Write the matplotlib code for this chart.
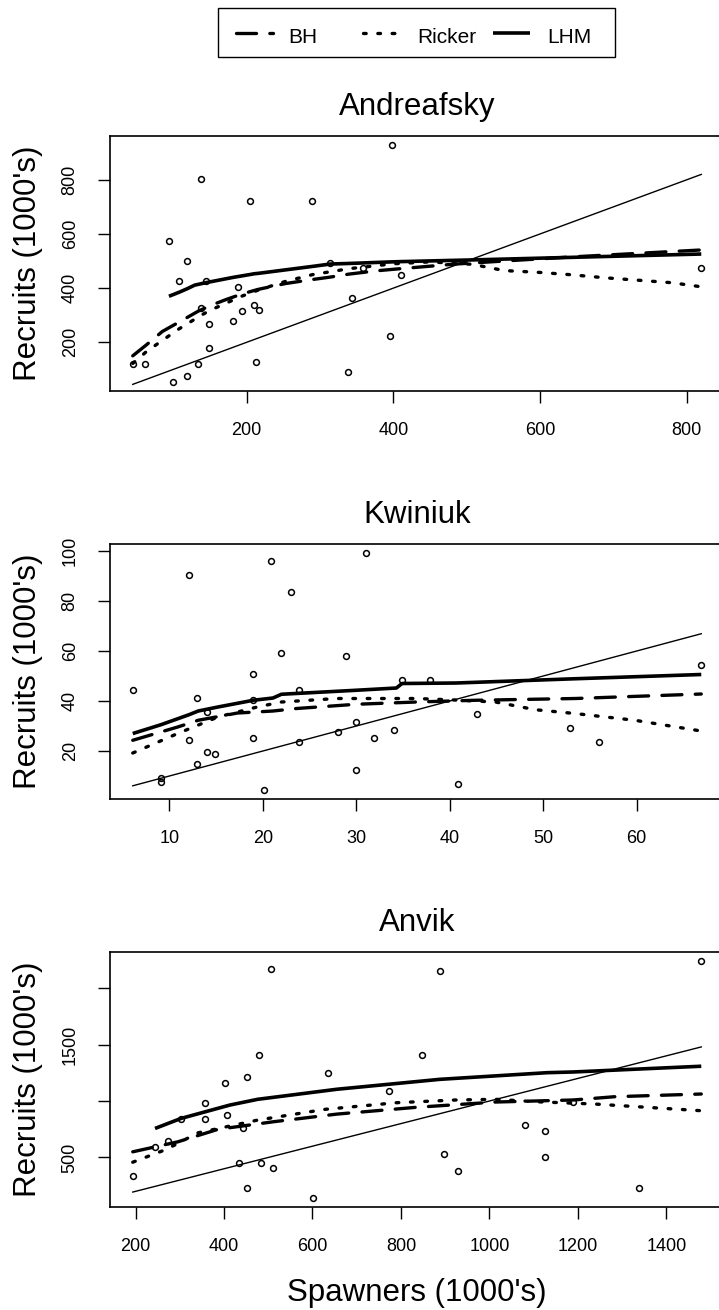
import numpy as np
import matplotlib
matplotlib.use("Agg")
import matplotlib.pyplot as plt
from matplotlib.lines import Line2D
from matplotlib.patches import Rectangle

plt.rcParams['font.family'] = ['Liberation Sans', 'DejaVu Sans']

W, H = 719, 1310

# ---- Andreafsky ----
and_S = [398, 138, 204, 289, 94, 118.5, 108, 144, 314, 358, 410, 820, 188, 344, 138,
         210, 217, 193, 149, 182, 395, 149, 44.6, 61, 133, 212.5, 338.5, 119, 99]
and_R = [927, 803, 721, 721, 573, 499, 425, 425, 491, 475, 447, 475, 403, 364, 327,
         337, 321, 314, 269, 277, 225, 180, 121, 121, 121, 128, 90, 75, 55]
and_bh_x = [44.6, 63, 85, 108, 134, 150, 172, 193, 215, 253, 290, 312, 340, 377, 410, 485, 550, 648, 820]
and_bh_y = [150, 190, 240, 275, 315, 335, 358, 378, 395, 417, 432, 440, 452, 464, 472, 489, 500, 516, 541]
and_rk_x = [44.6, 63, 85, 108, 138, 150, 193, 215, 253, 290, 340, 400, 450, 508, 551, 600, 640, 690, 780, 820]
and_rk_y = [122, 165, 207, 250, 300, 318, 370, 392, 425, 450, 472, 490, 497, 488, 465, 458, 450, 438, 420, 405]
and_lhm_x = [94, 108, 119, 129, 144, 182, 204, 210, 217, 289, 314, 338, 398, 410, 504, 820]
and_lhm_y = [370, 385, 398, 411, 420, 440, 450, 453, 455, 480, 489, 491, 497, 498, 504, 526]

# ---- Kwiniuk ----
kwi_S = [6.1, 12.1, 20.9, 23.0, 31.0, 22.0, 28.9, 19.0, 66.9, 34.9, 37.9, 13.0, 23.9, 19.0, 14.0,
         42.9, 12.1, 19.0, 30.0, 28.0, 23.9, 31.9, 34.0, 52.9, 56.0, 14.0, 14.9, 13.0, 30.0,
         9.1, 9.1, 20.1, 40.9]
kwi_R = [44.6, 90.2, 95.8, 83.6, 99.0, 59.0, 58.1, 51.0, 54.2, 48.6, 48.6, 41.4, 44.6, 40.3, 35.6,
         35.0, 24.6, 25.4, 31.8, 27.6, 23.8, 25.4, 28.6, 29.4, 23.8, 19.8, 19.0, 14.8, 12.6,
         9.4, 7.6, 4.6, 7.0]
kwi_bh_x = [6.1, 10.9, 13.1, 17.3, 21.1, 23.6, 30, 36.4, 42.8, 53.4, 66.9]
kwi_bh_y = [24.3, 29.6, 32.3, 35.2, 36.0, 37.0, 38.7, 39.6, 40.3, 41.0, 42.8]
kwi_rk_x = [6.1, 10.9, 15.2, 19.4, 22, 27.9, 36.4, 40, 44.9, 49.2, 53.4, 59.8, 66.9]
kwi_rk_y = [19.2, 27.0, 33.6, 37.6, 39.6, 41.0, 41.0, 40.5, 39.6, 36.5, 35.0, 32.3, 28.0]
kwi_lhm_x = [6.1, 9.1, 12.1, 13.1, 15.2, 19.0, 21.1, 22.0, 30.0, 34.3, 34.9, 40.7, 53.4, 66.9]
kwi_lhm_y = [27.0, 30.5, 34.5, 36.0, 37.6, 40.3, 41.2, 42.7, 44.3, 45.2, 47.0, 47.2, 48.9, 50.6]

# ---- Anvik ----
anv_S = [1479, 507, 888.5, 479, 848, 634.5, 452, 402, 774, 357, 1189, 303, 357, 406, 443,
         273, 244, 1080, 1125.5, 898, 1125.5, 434, 483.5, 511.5, 193.6, 929.6, 452, 1339, 602]
anv_R = [2236, 2169, 2147, 1405, 1405, 1245, 1210, 1157, 1086, 979, 994, 837, 837, 873, 763,
         642, 589, 784, 731, 535, 500, 447, 447, 411, 340, 376, 234, 234, 145]
anv_bh_x = [193.6, 296, 386, 511, 655, 834, 1014, 1189, 1283, 1479]
anv_bh_y = [550, 639, 749, 816, 884, 944, 991, 1009, 1038, 1062]
anv_rk_x = [193.6, 269, 341, 476, 628, 790, 924, 1014, 1104, 1239, 1479]
anv_rk_y = [458, 571, 718, 831, 926, 985, 1009, 1015, 994, 973, 914]
anv_lhm_x = [244, 303, 413, 476, 655, 888, 1131, 1189, 1479]
anv_lhm_y = [757, 846, 964, 1015, 1104, 1192, 1251, 1257, 1308]

titles = ["Andreafsky", "Kwiniuk", "Anvik"]
xticks = [[200, 400, 600, 800], [10, 20, 30, 40, 50, 60],
          [200, 400, 600, 800, 1000, 1200, 1400]]
yticks = [[200, 400, 600, 800], [20, 40, 60, 80, 100], [500, 1000, 1500, 2000]]
ytick_labels = [None, None, ["500", "", "1500", ""]]

panels = [
    (and_S, and_R, and_bh_x, and_bh_y, and_rk_x, and_rk_y, and_lhm_x, and_lhm_y),
    (kwi_S, kwi_R, kwi_bh_x, kwi_bh_y, kwi_rk_x, kwi_rk_y, kwi_lhm_x, kwi_lhm_y),
    (anv_S, anv_R, anv_bh_x, anv_bh_y, anv_rk_x, anv_rk_y, anv_lhm_x, anv_lhm_y),
]

BH_STYLE = dict(color="black", lw=2.4, ls=(0, (6, 4)), dash_capstyle="round")
RK_STYLE = dict(color="black", lw=2.4, ls=(0, (0.8, 3.5)), dash_capstyle="round")
LHM_STYLE = dict(color="black", lw=2.6, solid_capstyle="butt")


def rlim(v):
    # R style axis range: data range plus 4% each side
    lo, hi = min(v), max(v)
    d = 0.04 * (hi - lo)
    return lo - d, hi + d


def fx(x):
    return x / W


def fy(y):
    return 1 - y / H


fig = plt.figure(figsize=(W / 100, H / 100), dpi=100)

tops = [136, 544, 952]
box_h = 255
left, right = 110, 724

for i, (S, R, bx, by, rx, ry, lx, ly) in enumerate(panels):
    top = tops[i]
    ax = fig.add_axes([fx(left), fy(top + box_h), (right - left) / W, box_h / H])
    ax.plot(S, R, "o", mfc="none", mec="black", ms=4.2, mew=1.1, zorder=3)
    ss = sorted(S)
    ax.plot(ss, ss, color="black", lw=1.0)
    ax.plot(bx, by, **BH_STYLE)
    ax.plot(rx, ry, **RK_STYLE)
    ax.plot(lx, ly, **LHM_STYLE)
    ax.set_xlim(rlim(S))
    ax.set_ylim(rlim(R))
    ax.set_xticks(xticks[i])
    ax.set_yticks(yticks[i])
    if ytick_labels[i] is not None:
        ax.set_yticklabels(ytick_labels[i])
    ax.tick_params(direction="out", length=8.5, width=1.0, pad=14, labelsize=13)
    ax.tick_params(axis="y", labelrotation=90)
    for lab in ax.get_yticklabels():
        lab.set_verticalalignment("center")
    for sp in ax.spines.values():
        sp.set_linewidth(1.2)

    cx = (left + right) / 2
    fig.text(fx(cx), fy(top - 21), titles[i], ha="center", va="baseline", fontsize=22.5)
    fig.text(fx(28), fy(top + box_h / 2), "Recruits (1000's)", rotation=90,
             ha="center", va="center", fontsize=22.5)

fig.text(fx((left + right) / 2), fy(1301), "Spawners (1000's)", ha="center",
         va="baseline", fontsize=22.5)

# legend drawn at top of the page
fig.add_artist(Rectangle((fx(218), fy(57)), (615 - 218) / W, (57 - 8) / H,
                         transform=fig.transFigure, fill=False, lw=1.0, ec="black"))
leg_y = fy(33)
entries = [("BH", BH_STYLE, 236, 288), ("Ricker", RK_STYLE, 363, 417), ("LHM", LHM_STYLE, 493, 547)]
for name, st, x0, xt in entries:
    fig.add_artist(Line2D([fx(x0), fx(x0 + 37)], [leg_y, leg_y], transform=fig.transFigure, **st))
    fig.text(fx(xt), fy(43), name, ha="left", va="baseline", fontsize=15)

fig.savefig("out.png", dpi=100)
